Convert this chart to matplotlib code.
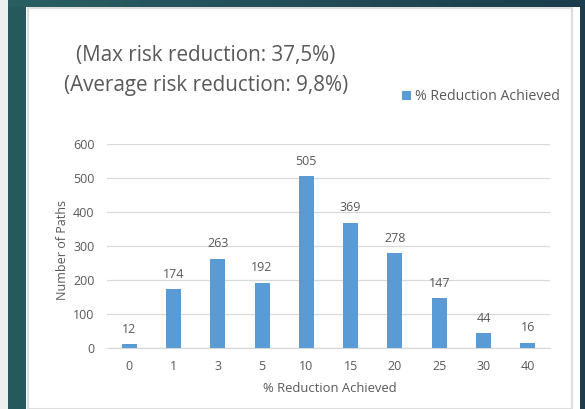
import numpy as np
import matplotlib
matplotlib.use("Agg")
import matplotlib.pyplot as plt
from matplotlib.patches import Rectangle

# Distribution of paths by achieved risk reduction
categories = ["0", "1", "3", "5", "10", "15", "20", "25", "30", "40"]
paths = [12, 174, 263, 192, 505, 369, 278, 147, 44, 16]
y_ticks = [0, 100, 200, 300, 400, 500, 600]
title_lines = ["(Max risk reduction: 37,5%)", "(Average risk reduction: 9,8%)"]
series_name = "% Reduction Achieved"

W, H = 585, 409
plt.rcParams["font.family"] = ["Open Sans", "DejaVu Sans"]
TXT = "#595959"
BAR = "#5b9bd5"
GRID = "#d9d9d9"
FS = 9.0

fig = plt.figure(figsize=(W / 100, H / 100), dpi=100)
fig.patch.set_facecolor("white")


def fx(px):
    return px / W


def fy(py):
    return 1 - py / H


# slide frame: light margin, teal strips and gradient band
fig.patches.append(Rectangle((0, 0), fx(8), 1, transform=fig.transFigure,
                             facecolor="#eef0f0", edgecolor="none", zorder=-3))
fig.patches.append(Rectangle((fx(8), 0), fx(18), 1, transform=fig.transFigure,
                             facecolor="#25595b", edgecolor="none", zorder=-3))
fig.patches.append(Rectangle((fx(580), 0), fx(5), 1, transform=fig.transFigure,
                             facecolor="#1c3b4b", edgecolor="none", zorder=-3))
band = fig.add_axes([fx(8), fy(7), fx(577), 7 / H])
grad = np.linspace(0, 1, 256)[None, :]
c0 = np.array([0x2a, 0x5f, 0x61]) / 255
c1 = np.array([0x1b, 0x3c, 0x4c]) / 255
img = c0[None, None, :] * (1 - grad[..., None]) + c1[None, None, :] * grad[..., None]
band.imshow(img, aspect="auto", extent=[0, 1, 0, 1])
band.axis("off")

# chart panel border
fig.patches.append(Rectangle((fx(28), 0), fx(544), fy(8), transform=fig.transFigure,
                             facecolor="white", edgecolor="#dedede", linewidth=1.6,
                             zorder=-2))

ax = fig.add_axes([fx(107), fy(348), fx(550 - 107), (348 - 144) / H])
ax.set_zorder(2)
ax.set_facecolor("none")
x = np.arange(len(categories))
bars = ax.bar(x, paths, width=0.34, color=BAR, zorder=3, label=series_name)
for xi, v in zip(x, paths):
    ax.annotate(str(v), (xi, v), xytext=(0, 6), textcoords="offset points",
                ha="center", va="bottom", fontsize=FS, color=TXT)

ax.set_xlim(-0.5, len(categories) - 0.5)
ax.set_ylim(0, 600)
ax.set_yticks(y_ticks)
ax.set_xticks(x)
ax.set_xticklabels(categories)
ax.tick_params(axis="both", length=0, labelsize=FS, labelcolor=TXT)
ax.tick_params(axis="y", pad=9)
ax.tick_params(axis="x", pad=9)
ax.grid(axis="y", color=GRID, linewidth=0.9, zorder=0)
ax.set_axisbelow(True)
for s in ["top", "right", "left"]:
    ax.spines[s].set_visible(False)
ax.spines["bottom"].set_color(GRID)
ax.spines["bottom"].set_linewidth(0.9)

fig.text(fx(62), fy(250), "Number of Paths", rotation=90, ha="center", va="center",
         fontsize=FS, color=TXT)
fig.text(fx(330), fy(388), series_name, ha="center", va="center",
         fontsize=9.4, color=TXT)

fig.text(fx(206), fy(56), title_lines[0], ha="center", va="center",
         fontsize=14.9, color=TXT)
fig.text(fx(206), fy(86), title_lines[1], ha="center", va="center",
         fontsize=14.9, color=TXT)

leg = ax.legend(loc="center left", bbox_to_anchor=(fx(402), fy(97)),
                bbox_transform=fig.transFigure, frameon=False, fontsize=10.2,
                handlelength=0.6, handleheight=0.6, handletextpad=0.3,
                borderpad=0, borderaxespad=0)
for t in leg.get_texts():
    t.set_color(TXT)

fig.savefig("out.png", dpi=100)
